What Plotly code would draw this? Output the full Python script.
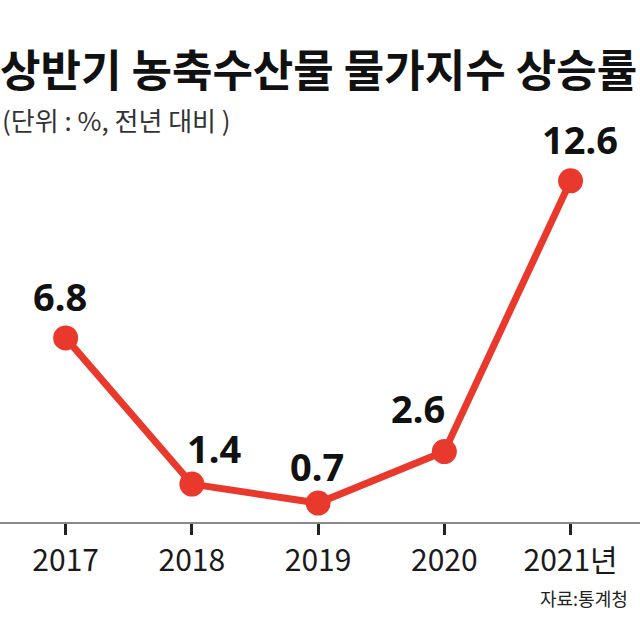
import plotly.graph_objects as go

# 상반기 농축수산물 물가지수 상승률 (전년 대비, %)
years = [2017, 2018, 2019, 2020, 2021]
year_labels = ["2017", "2018", "2019", "2020", "2021년"]
rates = [6.8, 1.4, 0.7, 2.6, 12.6]

# label nudges in px (x, y) so the numbers sit like the print version
label_shift = [(-6, 42), (22, 36), (-1, 37), (-26, 44), (9, 42)]

RED = "#e8392c"

fig = go.Figure()
fig.add_trace(go.Scatter(
    x=years, y=rates,
    mode="lines+markers",
    line=dict(color=RED, width=7),
    marker=dict(color=RED, size=25),
    cliponaxis=False,
    hoverinfo="skip",
    showlegend=False,
))

for yr, val, (dx, dy) in zip(years, rates, label_shift):
    fig.add_annotation(
        x=yr, y=val, text=f"{val:.1f}", showarrow=False,
        xshift=dx, yshift=dy,
        font=dict(family="Noto Sans, Roboto, sans-serif", size=38, color="#111111", weight="bold"),
    )

fig.add_annotation(
    xref="paper", yref="paper", x=0.0, y=1.0833, xanchor="left", yanchor="middle",
    text="(단위 : %, 전년 대비 )", showarrow=False,
    font=dict(family="Noto Sans CJK KR", size=26, color="#333333"),
)
fig.add_annotation(
    xref="paper", yref="paper", x=0.984, y=-0.2043, xanchor="right", yanchor="middle",
    text="자료:통계청", showarrow=False,
    font=dict(family="Noto Sans CJK KR", size=18, color="#222222"),
)

fig.update_layout(
    width=640, height=629,
    margin=dict(l=0, r=0, t=150, b=107),
    paper_bgcolor="white", plot_bgcolor="white",
    title=dict(
        text="<b>상반기 농축수산물 물가지수 상승률</b>",
        x=0.0, xanchor="left", xref="container",
        y=0.8855, yanchor="middle", yref="container",
        font=dict(family="Noto Sans CJK KR", size=44, color="#111111"),
    ),
    xaxis=dict(
        range=[2016.48, 2021.55],
        tickvals=years, ticktext=year_labels,
        showline=True, linecolor="#8a8a8a", linewidth=1.5,
        ticks="outside", ticklen=11, tickwidth=3, tickcolor="#222222",
        showgrid=False, zeroline=False,
        tickfont=dict(family="Noto Sans CJK KR", size=30, color="#1a1a1a"),
    ),
    yaxis=dict(
        range=[0, 13.74],
        visible=False, showgrid=False, zeroline=False,
    ),
)

# drop the page's default body margin so the figure sits at the window corner
fig.write_html("out.html", config={"displayModeBar": False},
               post_script="document.body.style.margin='0';")
